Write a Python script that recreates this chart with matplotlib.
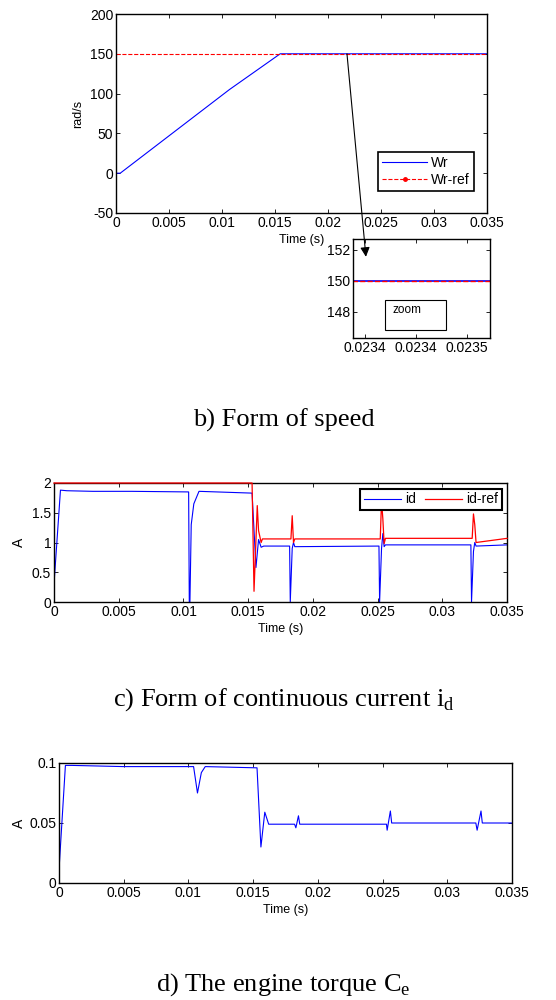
import numpy as np
import matplotlib
matplotlib.use("Agg")
import matplotlib.pyplot as plt
from matplotlib.patches import ConnectionPatch, Rectangle
from matplotlib.lines import Line2D
from matplotlib.ticker import StrMethodFormatter

plt.rcParams['font.family'] = ['Liberation Sans', 'DejaVu Sans']
plt.rcParams['mathtext.fontset'] = 'custom'
plt.rcParams['mathtext.rm'] = 'Liberation Serif'
plt.rcParams['axes.unicode_minus'] = False

# ---- data ----
# b) speed
speed_t = [0, 0.0004, 0.0107, 0.0155, 0.0157, 0.035]
speed_w = [0, 0, 105, 150, 150, 150]
speed_ref_t = [0, 0.035]
speed_ref_w = [150, 150]

# c) current id and its reference
id_t = [0, 0.0005, 0.0010, 0.003, 0.006, 0.0104, 0.01045, 0.0105, 0.0106, 0.0108,
        0.0112, 0.0153, 0.0155, 0.0156, 0.0158, 0.0160, 0.0162, 0.0182, 0.01825,
        0.0184, 0.0185, 0.0186, 0.0251, 0.02515, 0.0253, 0.0254, 0.0255, 0.0256,
        0.0322, 0.03225, 0.0324, 0.0325, 0.0326, 0.035]
id_v = [0.3, 1.88, 1.87, 1.86, 1.86, 1.85, 0.0, 0.0, 1.3, 1.65,
        1.86, 1.83, 1.0, 0.58, 1.05, 0.92, 0.94, 0.94, 0.0,
        0.9, 1.0, 0.93, 0.94, 0.0, 0.9, 1.15, 0.93, 0.96,
        0.96, 0.0, 0.85, 1.0, 0.94, 0.96]
idref_t = [0, 0.0153, 0.01545, 0.0157, 0.0158, 0.0160, 0.0161, 0.0183, 0.0184,
           0.0185, 0.0186, 0.0252, 0.0253, 0.0254, 0.0255, 0.0256, 0.0323,
           0.0324, 0.0325, 0.0326, 0.035]
idref_v = [2, 2, 0.18, 1.62, 1.2, 1.0, 1.06, 1.06, 1.45,
           1.0, 1.06, 1.06, 1.7, 1.4, 0.98, 1.07, 1.07,
           1.48, 1.3, 1.0, 1.07]

# d) torque
tq_t = [0, 0.0005, 0.001, 0.005, 0.0104, 0.0107, 0.0110, 0.0113, 0.0152, 0.0153,
        0.0156, 0.0159, 0.0162, 0.0182, 0.0183, 0.0185, 0.0186, 0.0253, 0.02535,
        0.0256, 0.0257, 0.0322, 0.0323, 0.0326, 0.0327, 0.035]
tq_v = [0.01, 0.098, 0.098, 0.097, 0.097, 0.075, 0.092, 0.097, 0.096, 0.096,
        0.030, 0.059, 0.049, 0.049, 0.046, 0.056, 0.049, 0.049, 0.044,
        0.060, 0.050, 0.050, 0.044, 0.060, 0.050, 0.050]

xticks = [0, 0.005, 0.01, 0.015, 0.02, 0.025, 0.03, 0.035]


def style(ax, fs=10):
    ax.tick_params(direction='in', top=True, right=True, labelsize=fs,
                   length=3, width=0.6, pad=2)
    for s in ax.spines.values():
        s.set_linewidth(1.0)
    ax.xaxis.set_major_formatter(StrMethodFormatter('{x:g}'))
    ax.yaxis.set_major_formatter(StrMethodFormatter('{x:g}'))


fig = plt.figure(figsize=(5.56, 10), dpi=100)

# ---- speed ----
ax1 = fig.add_axes([0.2086, 0.787, 0.667, 0.199])
l_wr, = ax1.plot(speed_t, speed_w, color='blue', lw=0.8)
l_ref, = ax1.plot(speed_ref_t, speed_ref_w, color='red', lw=0.8, ls='--')
ax1.set_xlim(0, 0.035)
ax1.set_ylim(-50, 200)
ax1.set_xticks(xticks)
ax1.set_yticks([-50, 0, 50, 100, 150, 200])
style(ax1)
ax1.set_ylabel('rad/s', fontsize=9, labelpad=4)
ax1.set_xlabel('Time (s)', fontsize=9, labelpad=3)
dot = Line2D([], [], ls='none', marker='.', color='red', markersize=5)
leg1 = ax1.legend([l_wr, (l_ref, dot)], ['Wr', 'Wr-ref'], loc='lower right',
                  bbox_to_anchor=(0.965, 0.11), fontsize=10, fancybox=False,
                  framealpha=1, edgecolor='black', borderpad=0.3, numpoints=1,
                  handlelength=3.2, handletextpad=0.3, labelspacing=0.2,
                  borderaxespad=0)
leg1.get_frame().set_linewidth(1.2)

# zoom inset
axz = fig.add_axes([0.635, 0.662, 0.246, 0.099])
axz.plot(speed_t, speed_w, color='blue', lw=1.2)
axz.plot(speed_ref_t, speed_ref_w, color='red', lw=1.0, ls='--')
axz.set_xlim(0.023388, 0.023523)
axz.set_ylim(146.3, 152.7)
axz.set_xticks([0.02340, 0.02345, 0.02350])
axz.set_yticks([148, 150, 152])
style(axz)
axz.set_xticklabels(['0.0234', '0.0234', '0.0235'])
axz.add_patch(Rectangle((0.23, 0.08), 0.45, 0.3, transform=axz.transAxes,
                        fill=False, lw=0.8, ec='black'))
axz.text(0.29, 0.28, 'zoom', transform=axz.transAxes, fontsize=8.5, va='center')

arrow = ConnectionPatch(xyA=(0.0218, 150), coordsA=ax1.transData,
                        xyB=(0.0234007, 151.55), coordsB=axz.transData,
                        arrowstyle='-|>', mutation_scale=14, lw=0.8,
                        color='black')
fig.add_artist(arrow)

fig.text(0.51, 0.58, 'b) Form of speed', fontsize=19, family='Liberation Serif',
         ha='center', va='center')

# ---- current id ----
ax2 = fig.add_axes([0.0971, 0.398, 0.815, 0.119])
ax2.plot(id_t, id_v, color='blue', lw=0.8, label='id')
ax2.plot(idref_t, idref_v, color='red', lw=0.9, label='id-ref',
         zorder=3, clip_on=False)
ax2.set_xlim(0, 0.035)
ax2.set_ylim(0, 2)
ax2.set_xticks(xticks)
ax2.set_yticks([0, 0.5, 1, 1.5, 2])
style(ax2)
ax2.set_ylabel('A', fontsize=10, labelpad=4)
ax2.set_xlabel('Time (s)', fontsize=9, labelpad=3)
leg2 = ax2.legend(loc='upper right', bbox_to_anchor=(0.988, 0.95), ncol=2,
                  fontsize=10, fancybox=False, framealpha=1, edgecolor='black',
                  borderpad=0.25, handlelength=2.7, handletextpad=0.3,
                  columnspacing=0.6, borderaxespad=0)
leg2.get_frame().set_linewidth(1.5)
leg2.set_zorder(5)

fig.text(0.51, 0.30, r'c) Form of continuous current i$_\mathrm{d}$', fontsize=19,
         family='Liberation Serif', ha='center', va='center')

# ---- torque ----
ax3 = fig.add_axes([0.106, 0.117, 0.815, 0.120])
ax3.plot(tq_t, tq_v, color='blue', lw=0.8)
ax3.set_xlim(0, 0.035)
ax3.set_ylim(0, 0.1)
ax3.set_xticks(xticks)
ax3.set_yticks([0, 0.05, 0.1])
style(ax3)
ax3.set_ylabel('A', fontsize=10, labelpad=2)
ax3.set_xlabel('Time (s)', fontsize=9, labelpad=3)

fig.text(0.51, 0.015, r'd) The engine torque C$_\mathrm{e}$', fontsize=19,
         family='Liberation Serif', ha='center', va='center')

fig.savefig('out.png', dpi=100)
